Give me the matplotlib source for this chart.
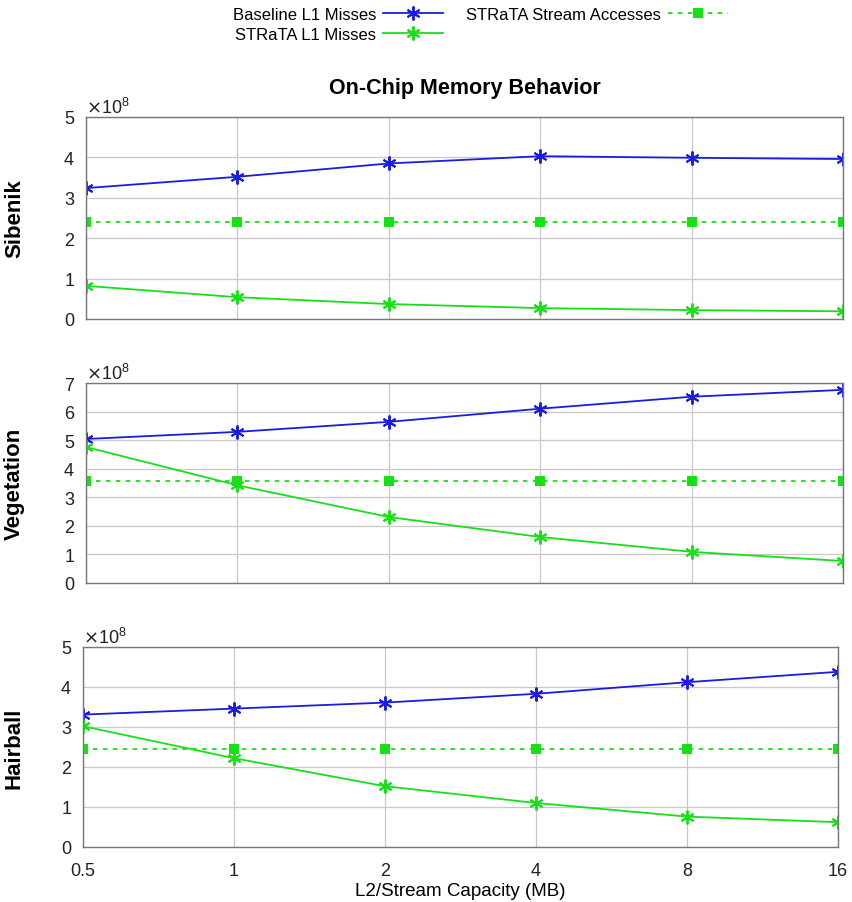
import matplotlib
matplotlib.use("Agg")
import matplotlib.pyplot as plt
from matplotlib.ticker import ScalarFormatter, FixedLocator

plt.rcParams["font.family"] = ["Liberation Sans", "DejaVu Sans"]

CAPACITY = [0.5, 1, 2, 4, 8, 16]
CAPACITY_LABELS = ["0.5", "1", "2", "4", "8", "16"]

SCENES = ["Sibenik", "Vegetation", "Hairball"]

BASELINE_L1 = {
    "Sibenik": [3.24e8, 3.52e8, 3.85e8, 4.03e8, 3.99e8, 3.96e8],
    "Vegetation": [5.04e8, 5.29e8, 5.64e8, 6.10e8, 6.52e8, 6.76e8],
    "Hairball": [3.31e8, 3.46e8, 3.61e8, 3.83e8, 4.12e8, 4.38e8],
}
STRATA_L1 = {
    "Sibenik": [0.82e8, 0.54e8, 0.37e8, 0.27e8, 0.22e8, 0.19e8],
    "Vegetation": [4.76e8, 3.42e8, 2.31e8, 1.61e8, 1.09e8, 0.77e8],
    "Hairball": [3.02e8, 2.22e8, 1.52e8, 1.10e8, 0.76e8, 0.62e8],
}
STRATA_STREAM = {
    "Sibenik": [2.40e8] * 6,
    "Vegetation": [3.57e8] * 6,
    "Hairball": [2.45e8] * 6,
}
Y_MAX = {"Sibenik": 5, "Vegetation": 7, "Hairball": 5}

BLUE = "#1c1ce0"
GREEN = "#18e018"
ASTERISK = (6, 2, 0)

W, H = 853, 903
fig = plt.figure(figsize=(W / 100, H / 100), dpi=100)

# axes boxes in pixels: left, top, right, bottom
boxes_px = [
    (86, 118, 843, 320),
    (86, 384, 843, 584),
    (83, 648, 838, 848),
]

handles = None
for i, (scene, (x0, y0, x1, y1)) in enumerate(zip(SCENES, boxes_px)):
    ax = fig.add_axes((x0 / W, 1 - y1 / H, (x1 - x0) / W, (y1 - y0) / H))
    h1, = ax.plot(CAPACITY, BASELINE_L1[scene], color=BLUE, lw=1.3,
                  marker=ASTERISK, ms=10, mew=1.4, label="Baseline L1 Misses")
    h2, = ax.plot(CAPACITY, STRATA_L1[scene], color=GREEN, lw=1.3,
                  marker=ASTERISK, ms=10, mew=1.4, label="STRaTA L1 Misses")
    h3, = ax.plot(CAPACITY, STRATA_STREAM[scene], color=GREEN, lw=1.3,
                  ls=(0, (2.5, 3)), marker="s", ms=7, mew=0,
                  label="STRaTA Stream Accesses")
    handles = [h1, h2, h3]

    ax.set_xscale("log", base=2)
    ax.set_xlim(0.5, 16)
    ax.xaxis.set_major_locator(FixedLocator(CAPACITY))
    ax.xaxis.set_minor_locator(FixedLocator([]))
    if i == 2:
        ax.set_xticklabels(CAPACITY_LABELS)
        ax.set_xlabel("L2/Stream Capacity (MB)", fontsize=13.5, labelpad=2)
    else:
        ax.set_xticklabels([])

    ymax = Y_MAX[scene]
    ax.set_ylim(0, ymax * 1e8)
    ax.set_yticks([k * 1e8 for k in range(ymax + 1)])
    fmt = ScalarFormatter(useMathText=True)
    fmt.set_powerlimits((0, 0))
    ax.yaxis.set_major_formatter(fmt)
    ax.yaxis.get_offset_text().set_fontsize(13)

    ax.grid(True, color="#c8c8c8", lw=0.9)
    ax.set_axisbelow(True)
    ax.tick_params(length=0, labelsize=13, colors="#222222")
    ax.tick_params(axis="y", pad=8)
    ax.tick_params(axis="x", pad=11)
    for sp in ax.spines.values():
        sp.set_color("#777777")
        sp.set_linewidth(1.0)

    ax.set_ylabel(scene, fontsize=16, fontweight="bold")
    ax.yaxis.set_label_coords((25 - x0) / (x1 - x0), 0.5)

    if i == 0:
        ax.set_title("On-Chip Memory Behavior", fontsize=15.5,
                     fontweight="bold", pad=17)

fig.legend(handles=handles, loc="upper center", bbox_to_anchor=(0.563, 1.008),
           ncol=2, frameon=False, markerfirst=False, fontsize=12,
           handlelength=3.6, columnspacing=1.4, handletextpad=0.4,
           labelspacing=0.3)

fig.savefig("out.png", dpi=100)
